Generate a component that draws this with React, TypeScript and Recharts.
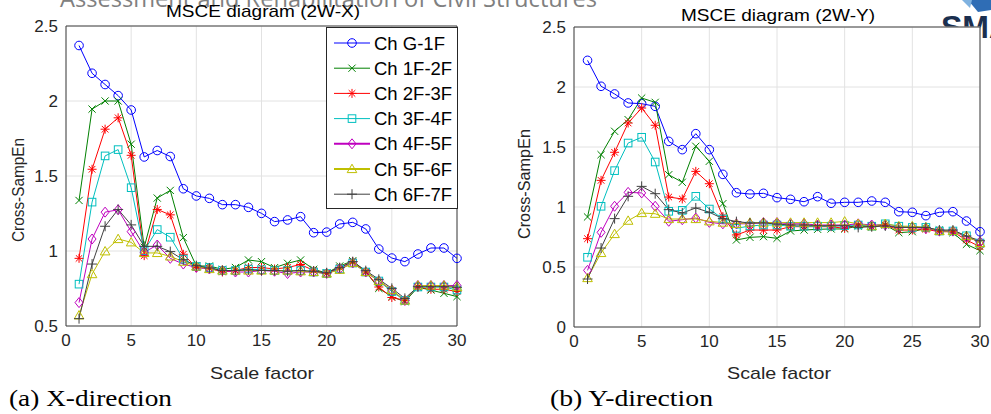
import React from 'react';
import { LineChart, Line, XAxis, YAxis, CartesianGrid, ReferenceLine } from 'recharts';

const scaleFactors = Array.from({ length: 30 }, (_, i) => i + 1);
const seriesNames = ['Ch G-1F', 'Ch 1F-2F', 'Ch 2F-3F', 'Ch 3F-4F', 'Ch 4F-5F', 'Ch 5F-6F', 'Ch 6F-7F'];
const seriesColors = ['#0000ff', '#008000', '#ff0000', '#00bfbf', '#bf00bf', '#bfbf00', '#404040'];
const seriesShapes = ['circle', 'x', 'star', 'square', 'diamond', 'triangle', 'plus'];

// (a) X-direction
const xG1F = [2.37, 2.185, 2.11, 2.036, 1.94, 1.627, 1.67, 1.63, 1.415, 1.367, 1.351, 1.309, 1.309, 1.291, 1.251, 1.196, 1.207, 1.229, 1.122, 1.126, 1.18, 1.191, 1.147, 1.013, 0.953, 0.929, 0.98, 1.02, 1.02, 0.951];
const x1F2F = [1.337, 1.946, 2.0, 2.0, 1.712, 1.025, 1.353, 1.404, 1.089, 0.9, 0.9, 0.878, 0.89, 0.94, 0.929, 0.889, 0.918, 0.94, 0.878, 0.853, 0.9, 0.935, 0.862, 0.751, 0.696, 0.662, 0.758, 0.74, 0.718, 0.696];
const x2F3F = [0.951, 1.545, 1.812, 1.888, 1.638, 0.969, 1.277, 1.241, 0.978, 0.89, 0.885, 0.86, 0.87, 0.89, 0.89, 0.88, 0.89, 0.91, 0.87, 0.85, 0.89, 0.93, 0.86, 0.76, 0.69, 0.67, 0.76, 0.745, 0.745, 0.73];
const x3F4F = [0.779, 1.326, 1.634, 1.676, 1.422, 1.002, 1.143, 1.092, 0.946, 0.897, 0.89, 0.87, 0.87, 0.88, 0.875, 0.87, 0.87, 0.87, 0.86, 0.85, 0.88, 0.92, 0.86, 0.8, 0.73, 0.67, 0.76, 0.76, 0.76, 0.74];
const x4F5F = [0.656, 1.08, 1.259, 1.275, 1.129, 0.991, 1.04, 0.951, 0.913, 0.89, 0.88, 0.87, 0.86, 0.86, 0.87, 0.865, 0.85, 0.86, 0.86, 0.85, 0.88, 0.92, 0.86, 0.8, 0.74, 0.67, 0.77, 0.77, 0.77, 0.77];
const x5F6F = [0.571, 0.846, 0.998, 1.08, 1.058, 0.987, 0.987, 0.964, 0.929, 0.897, 0.88, 0.87, 0.87, 0.87, 0.87, 0.87, 0.87, 0.865, 0.86, 0.85, 0.875, 0.92, 0.86, 0.8, 0.74, 0.67, 0.77, 0.77, 0.77, 0.76];
const x6F7F = [0.549, 0.913, 1.165, 1.277, 1.174, 1.031, 1.031, 0.996, 0.942, 0.902, 0.887, 0.87, 0.87, 0.875, 0.87, 0.87, 0.865, 0.87, 0.865, 0.855, 0.889, 0.929, 0.869, 0.811, 0.751, 0.684, 0.762, 0.762, 0.762, 0.758];

// (b) Y-direction
const yG1F = [2.222, 2.006, 1.942, 1.867, 1.861, 1.839, 1.547, 1.478, 1.611, 1.478, 1.272, 1.119, 1.108, 1.114, 1.078, 1.064, 1.044, 1.086, 1.031, 1.039, 1.039, 1.05, 1.039, 0.961, 0.956, 0.928, 0.956, 0.961, 0.883, 0.794];
const y1F2F = [0.917, 1.436, 1.631, 1.728, 1.908, 1.872, 1.269, 1.206, 1.506, 1.381, 1.028, 0.725, 0.747, 0.753, 0.739, 0.8, 0.808, 0.814, 0.817, 0.817, 0.842, 0.836, 0.85, 0.786, 0.794, 0.822, 0.808, 0.786, 0.689, 0.636];
const y2F3F = [0.736, 1.222, 1.456, 1.7, 1.825, 1.681, 1.083, 1.067, 1.297, 1.194, 0.92, 0.767, 0.808, 0.808, 0.808, 0.836, 0.836, 0.836, 0.836, 0.822, 0.85, 0.836, 0.85, 0.808, 0.808, 0.814, 0.794, 0.794, 0.725, 0.669];
const y3F4F = [0.581, 1.006, 1.303, 1.533, 1.581, 1.375, 0.964, 0.972, 1.089, 0.983, 0.9, 0.822, 0.842, 0.85, 0.85, 0.84, 0.84, 0.84, 0.84, 0.845, 0.85, 0.84, 0.86, 0.84, 0.83, 0.83, 0.8, 0.8, 0.76, 0.7];
const y4F5F = [0.472, 0.789, 1.006, 1.122, 1.117, 1.006, 0.881, 0.894, 0.908, 0.872, 0.86, 0.86, 0.86, 0.87, 0.87, 0.86, 0.86, 0.85, 0.85, 0.85, 0.86, 0.85, 0.85, 0.83, 0.83, 0.82, 0.8, 0.8, 0.75, 0.71];
const y5F6F = [0.408, 0.617, 0.775, 0.886, 0.95, 0.944, 0.9, 0.9, 0.9, 0.881, 0.87, 0.86, 0.87, 0.87, 0.87, 0.87, 0.87, 0.87, 0.87, 0.88, 0.86, 0.84, 0.86, 0.84, 0.84, 0.83, 0.8, 0.8, 0.76, 0.7];
const y6F7F = [0.4, 0.658, 0.903, 1.089, 1.172, 1.111, 0.978, 0.95, 0.992, 0.956, 0.903, 0.878, 0.867, 0.867, 0.858, 0.85, 0.85, 0.844, 0.844, 0.844, 0.83, 0.836, 0.842, 0.83, 0.83, 0.83, 0.808, 0.808, 0.758, 0.719];

const xTicks = [0, 5, 10, 15, 20, 25, 30];
const yTicksA = [0.5, 1, 1.5, 2, 2.5];
const yTicksB = [0, 0.5, 1, 1.5, 2, 2.5];

const seriesA = [xG1F, x1F2F, x2F3F, x3F4F, x4F5F, x5F6F, x6F7F];
const seriesB = [yG1F, y1F2F, y2F3F, y3F4F, y4F5F, y5F6F, y6F7F];

const buildRows = (series: number[][]) =>
  scaleFactors.map((k, i) => {
    const row: Record<string, number> = { k };
    series.forEach((s, j) => { row['s' + j] = s[i]; });
    return row;
  });

const dataA = buildRows(seriesA);
const dataB = buildRows(seriesB);

const FONT = "'Liberation Sans', Arial, sans-serif";
const SERIF = "'Liberation Serif', 'Times New Roman', serif";
const AX = '#404040';

function Marker({ shape, cx, cy, color }: { shape: string; cx: number; cy: number; color: string }) {
  const sw = 1;
  switch (shape) {
    case 'circle':
      return <circle cx={cx} cy={cy} r={4.3} fill="none" stroke={color} strokeWidth={sw} />;
    case 'x': {
      const h = 3.6;
      return <path d={`M${cx - h},${cy - h}L${cx + h},${cy + h}M${cx - h},${cy + h}L${cx + h},${cy - h}`} stroke={color} strokeWidth={sw} fill="none" />;
    }
    case 'star': {
      const h = 4.5, d = 3.3;
      return <path d={`M${cx},${cy - h}L${cx},${cy + h}M${cx - h},${cy}L${cx + h},${cy}M${cx - d},${cy - d}L${cx + d},${cy + d}M${cx - d},${cy + d}L${cx + d},${cy - d}`} stroke={color} strokeWidth={sw} fill="none" />;
    }
    case 'square': {
      const h = 3.8;
      return <rect x={cx - h} y={cy - h} width={2 * h} height={2 * h} fill="none" stroke={color} strokeWidth={sw} />;
    }
    case 'diamond': {
      const h = 5;
      return <path d={`M${cx},${cy - h}L${cx + h * 0.8},${cy}L${cx},${cy + h}L${cx - h * 0.8},${cy}Z`} fill="none" stroke={color} strokeWidth={sw} />;
    }
    case 'triangle': {
      const h = 4.8;
      return <path d={`M${cx},${cy - h}L${cx + h},${cy + h * 0.75}L${cx - h},${cy + h * 0.75}Z`} fill="none" stroke={color} strokeWidth={sw} />;
    }
    case 'plus':
    default: {
      const h = 5;
      return <path d={`M${cx},${cy - h}L${cx},${cy + h}M${cx - h},${cy}L${cx + h},${cy}`} stroke={color} strokeWidth={sw} fill="none" />;
    }
  }
}

const renderDot = (shape: string, color: string) => (props: any) => {
  const { cx, cy, index } = props;
  if (cx == null || cy == null) return <g key={`d-${index}`} />;
  return <g key={`d-${index}`}><Marker shape={shape} cx={cx} cy={cy} color={color} /></g>;
};

function Panel({ data, yTicks, yDomain, width, height, margin }: any) {
  return (
    <LineChart width={width} height={height} data={data} margin={margin}>
      <CartesianGrid stroke="#e2e2e2" fill="#ffffff" />
      <XAxis
        dataKey="k"
        type="number"
        domain={[0, 30]}
        ticks={xTicks}
        interval={0}
        height={30}
        tickLine={false}
        axisLine={{ stroke: AX }}
        tick={{ fontSize: 17, fill: '#262626', fontFamily: FONT }}
      />
      <YAxis
        type="number"
        domain={yDomain}
        ticks={yTicks}
        interval={0}
        width={40}
        tickLine={false}
        axisLine={{ stroke: AX }}
        tick={{ fontSize: 17, fill: '#262626', fontFamily: FONT }}
        allowDataOverflow
      />
      <ReferenceLine y={yDomain[1]} stroke={AX} />
      <ReferenceLine x={30} stroke={AX} />
      {seriesNames.map((name, j) => (
        <Line
          key={name}
          name={name}
          dataKey={'s' + j}
          stroke={seriesColors[j]}
          strokeWidth={1}
          dot={renderDot(seriesShapes[j], seriesColors[j])}
          activeDot={false}
          isAnimationActive={false}
        />
      ))}
    </LineChart>
  );
}

function LegendBox() {
  const rowH = 25.2;
  return (
    <svg width={132} height={182} style={{ position: 'absolute', left: 326, top: 27 }}>
      <rect x={0.5} y={0.5} width={131} height={181} fill="#ffffff" stroke="#262626" strokeWidth={1} />
      {seriesNames.map((name, j) => {
        const y = 16 + j * rowH;
        return (
          <g key={name}>
            <line x1={8} x2={44} y1={y} y2={y} stroke={seriesColors[j]} strokeWidth={j === 4 || j === 5 ? 2 : 1} />
            <Marker shape={seriesShapes[j]} cx={26} cy={y} color={seriesColors[j]} />
            <text x={48} y={y + 6.5} fontSize={18.5} fontFamily={FONT} fill="#000">{name}</text>
          </g>
        );
      })}
    </svg>
  );
}

export default function App() {
  return (
    <div style={{ position: 'absolute', left: 0, top: 0, width: 991, height: 414, background: '#fff', overflow: 'hidden' }}>
      <svg width={991} height={414} style={{ position: 'absolute', left: 0, top: 0 }}>
        <text x={60} y={7} fontSize={23.5} fontFamily="'Open Sans', sans-serif" fill="#808080" textLength={537} lengthAdjust="spacingAndGlyphs">Assessment and Rehabilitation of Civil Structures</text>
        <path d="M968,0L991,0L991,10L978,12Z" fill="#2f6db5" />
        <path d="M962,0L972,0L970,8Z" fill="#7fb2e0" />
        <text x={941} y={38} fontSize={32} fontWeight="bold" fontFamily={FONT} fill="#1b2f4f">SMA</text>
      </svg>
      <div style={{ position: 'absolute', left: 0, top: 0 }}>
        <Panel data={dataA} yTicks={yTicksA} yDomain={[0.5, 2.5]} width={470} height={414}
          margin={{ top: 26, right: 13, bottom: 58, left: 26 }} />
      </div>
      <div style={{ position: 'absolute', left: 480, top: 0 }}>
        <Panel data={dataB} yTicks={yTicksB} yDomain={[0, 2.5]} width={511} height={414}
          margin={{ top: 27, right: 11, bottom: 57, left: 54 }} />
      </div>
      <LegendBox />
      <svg width={991} height={414} style={{ position: 'absolute', left: 0, top: 0, pointerEvents: 'none' }}>
        <text x={263} y={17} textAnchor="middle" fontSize={17} fontFamily={FONT} fill="#000" textLength={194} lengthAdjust="spacingAndGlyphs">MSCE diagram (2W-X)</text>
        <text x={778} y={21} textAnchor="middle" fontSize={17} fontFamily={FONT} fill="#000" textLength={194} lengthAdjust="spacingAndGlyphs">MSCE diagram (2W-Y)</text>
        <text x={262} y={379} textAnchor="middle" fontSize={17} fontFamily={FONT} fill="#262626" textLength={104} lengthAdjust="spacingAndGlyphs">Scale factor</text>
        <text x={779} y={379} textAnchor="middle" fontSize={17} fontFamily={FONT} fill="#262626" textLength={104} lengthAdjust="spacingAndGlyphs">Scale factor</text>
        <text transform="translate(24,190) rotate(-90)" textAnchor="middle" fontSize={17} fontFamily={FONT} fill="#262626" textLength={104} lengthAdjust="spacingAndGlyphs">Cross-SampEn</text>
        <text transform="translate(530,184) rotate(-90)" textAnchor="middle" fontSize={17} fontFamily={FONT} fill="#262626" textLength={110} lengthAdjust="spacingAndGlyphs">Cross-SampEn</text>
        <text x={9} y={406} fontSize={24} fontFamily={SERIF} fill="#000" textLength={163} lengthAdjust="spacingAndGlyphs">(a) X-direction</text>
        <text x={550} y={406} fontSize={24} fontFamily={SERIF} fill="#000" textLength={163} lengthAdjust="spacingAndGlyphs">(b) Y-direction</text>
      </svg>
    </div>
  );
}
